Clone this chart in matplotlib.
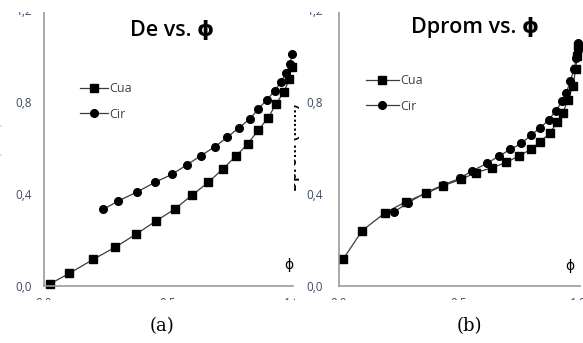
import matplotlib
matplotlib.use("Agg")
import matplotlib.pyplot as plt
from matplotlib.patches import Rectangle

# panel (a): De vs phi
phi_a_cua = [0.024, 0.102, 0.199, 0.286, 0.371, 0.452, 0.528, 0.598, 0.663, 0.721,
             0.774, 0.821, 0.864, 0.904, 0.935, 0.968, 0.989, 0.999]
de_cua = [0.009, 0.055, 0.116, 0.168, 0.225, 0.283, 0.335, 0.396, 0.451, 0.509,
          0.565, 0.617, 0.678, 0.731, 0.791, 0.845, 0.899, 0.953]
phi_a_cir = [0.239, 0.300, 0.374, 0.448, 0.515, 0.575, 0.633, 0.690, 0.739, 0.786,
             0.831, 0.864, 0.898, 0.931, 0.956, 0.976, 0.992, 1.000]
de_cir = [0.333, 0.370, 0.408, 0.451, 0.485, 0.526, 0.567, 0.606, 0.647, 0.688,
          0.727, 0.770, 0.809, 0.849, 0.888, 0.925, 0.964, 1.007]

# panel (b): Dprom vs phi
phi_b_cua = [0.017, 0.097, 0.194, 0.279, 0.365, 0.435, 0.512, 0.572, 0.641, 0.700,
             0.753, 0.805, 0.842, 0.882, 0.912, 0.937, 0.958, 0.979, 0.990, 0.997, 1.000]
dprom_cua = [0.116, 0.241, 0.319, 0.366, 0.403, 0.436, 0.464, 0.493, 0.514, 0.538,
             0.565, 0.596, 0.628, 0.664, 0.712, 0.754, 0.809, 0.870, 0.942, 1.000, 1.045]
phi_b_cir = [0.230, 0.289, 0.363, 0.435, 0.505, 0.558, 0.619, 0.669, 0.717, 0.763,
             0.805, 0.842, 0.877, 0.907, 0.934, 0.951, 0.968, 0.983, 0.993, 0.999, 1.001]
dprom_cir = [0.322, 0.362, 0.406, 0.439, 0.468, 0.501, 0.533, 0.565, 0.594, 0.620,
             0.657, 0.688, 0.722, 0.761, 0.804, 0.840, 0.891, 0.943, 0.990, 1.026, 1.055]

yticks = [0.0, 0.4, 0.8, 1.2]
ytick_labels = ["0,0", "0,4", "0,8", "1,2"]
xticks = [0.0, 0.5, 1.0]
xtick_labels = ["0,0", "0,5", "1,0"]

W, H = 583, 343
sans = ["Open Sans", "DejaVu Sans"]
plt.rcParams["font.family"] = sans

fig = plt.figure(figsize=(W / 100, H / 100), dpi=100)


def px(x, y):
    # pixel (from top-left) -> figure fraction
    return x / W, 1 - y / H


axA = fig.add_axes([44 / W, 57 / H, 249 / W, 276 / H])
axB = fig.add_axes([339 / W, 57 / H, 241 / W, 276 / H])

line_c = "#3c3c3c"
for ax, xr, ypad in [(axA, 249 / 248, 8.5), (axB, 241 / 239, 11.5)]:
    ax.set_xlim(0, xr)
    ax.set_ylim(0, 1.2)
    for s in ["top", "right"]:
        ax.spines[s].set_visible(False)
    for s in ["left", "bottom"]:
        ax.spines[s].set_color("#9a9a9a")
        ax.spines[s].set_linewidth(1.2)
    ax.set_yticks(yticks)
    ax.set_yticklabels(ytick_labels)
    ax.set_xticks(xticks)
    ax.set_xticklabels(xtick_labels)
    ax.tick_params(axis="y", length=0, pad=ypad, labelsize=8.5, labelcolor="#404a62")
    ax.tick_params(axis="x", length=0, pad=8, labelsize=8.5, labelcolor="#404a62")
    ax.patch.set_alpha(0)

axA.plot(phi_a_cua, de_cua, marker="s", ms=6, color=line_c, lw=0.9,
         mfc="black", mec="black", label="Cua", clip_on=False)
axA.plot(phi_a_cir, de_cir, marker="o", ms=5.5, color=line_c, lw=0.9,
         mfc="black", mec="black", label="Cir", clip_on=False)
axB.plot(phi_b_cua, dprom_cua, marker="s", ms=6, color=line_c, lw=0.9,
         mfc="black", mec="black", label="Cua", clip_on=False)
axB.plot(phi_b_cir, dprom_cir, marker="o", ms=5.5, color=line_c, lw=0.9,
         mfc="black", mec="black", label="Cir", clip_on=False)

for ax, anchor, hl in [(axA, px(80, 82), 2.2), (axB, px(366, 74), 2.6)]:
    leg = ax.legend(loc="upper left", bbox_to_anchor=anchor, bbox_transform=fig.transFigure,
                    frameon=False, fontsize=9, handlelength=hl, handletextpad=0.15,
                    labelspacing=1.0, borderpad=0, borderaxespad=0, numpoints=1)
    for t in leg.get_texts():
        t.set_color("#404040")

# titles
fig.text(*px(172, 30), "De vs. ϕ", ha="center", va="center", fontsize=15.5,
         weight="semibold", family=sans)
fig.text(*px(475, 28), "Dprom vs. ϕ", ha="center", va="center", fontsize=15.5,
         weight="semibold", family=sans)

# phi axis marks
axA.text(0.984, 0.076, "ϕ", transform=axA.transAxes, ha="center", va="center", fontsize=10)
axB.text(0.958, 0.069, "ϕ", transform=axB.transAxes, ha="center", va="center", fontsize=10)

# captions
fig.text(*px(162, 326), "(a)", ha="center", va="center", fontsize=13, family="DejaVu Serif")
fig.text(*px(469, 326), "(b)", ha="center", va="center", fontsize=13, family="DejaVu Serif")

# cropped edges of the source image
white = dict(transform=fig.transFigure, facecolor="white", edgecolor="none")
fig.add_artist(Rectangle(px(0, 11.5), 1, 11.5 / H, zorder=10, **white))
fig.add_artist(Rectangle(px(0, 313), 1, 13 / H, zorder=10, **white))
fig.add_artist(Rectangle(px(294.5, 300), 8 / W, 12 / H, zorder=10, **white))

# partly hidden y labels
fig.text(*px(-3, 150), "De (mm)", rotation=90, ha="center", va="center",
         fontsize=10, color="#c8c8c8")
fig.text(*px(293, 147), "Dprom (mm)", rotation=90, ha="center", va="center",
         fontsize=10, weight="bold", zorder=11)
fig.add_artist(Rectangle(px(284, 196), 9.5 / W, 98 / H, zorder=12, **white))

fig.savefig("out.png", dpi=100)
